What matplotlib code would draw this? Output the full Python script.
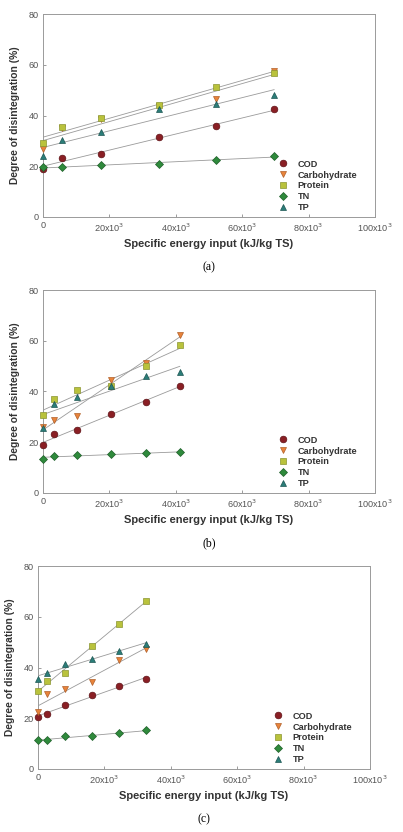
import numpy as np
import matplotlib
matplotlib.use('Agg')
import matplotlib.pyplot as plt
from matplotlib.ticker import FuncFormatter

# degree of disintegration (%) vs specific energy input (kJ/kg TS)
series = ['COD', 'Carbohydrate', 'Protein', 'TN', 'TP']

x_a = [0, 5800, 17400, 34800, 52200, 69600]
cod_a = [19.1, 23.3, 25.0, 31.4, 35.9, 42.4]
carb_a = [26.7, 35.0, 38.5, 43.8, 46.4, 57.6]
prot_a = [29.2, 35.3, 38.9, 44.2, 51.3, 56.8]
tn_a = [19.7, 19.7, 20.4, 20.7, 22.4, 24.1]
tp_a = [24.1, 30.5, 33.6, 42.4, 44.7, 48.0]

x_b = [0, 3440, 10300, 20600, 30900, 41200]
cod_b = [19.0, 23.2, 24.9, 31.3, 35.9, 42.2]
carb_b = [26.2, 28.9, 30.4, 44.6, 51.4, 62.3]
prot_b = [30.8, 37.1, 40.4, 42.0, 50.1, 58.4]
tn_b = [13.5, 14.4, 15.1, 15.3, 15.7, 16.0]
tp_b = [25.8, 35.1, 38.0, 42.0, 46.0, 47.7]

x_c = [0, 2700, 8100, 16200, 24300, 32400]
cod_c = [20.6, 21.6, 25.4, 29.1, 32.7, 35.3]
carb_c = [22.3, 29.4, 31.7, 34.4, 43.1, 47.2]
prot_c = [30.7, 34.6, 38.0, 48.4, 57.0, 66.1]
tn_c = [11.3, 11.4, 12.9, 13.0, 14.0, 15.2]
tp_c = [35.5, 37.9, 41.4, 43.3, 46.6, 49.2]

colors = ['#8a1f24', '#e8833a', '#b9c23c', '#2f8a3c', '#2b7d78']
edges = ['#5e1216', '#b0602a', '#8a9430', '#1f5f29', '#1d5653']
markers = ['o', 'v', 's', 'D', '^']
msizes = [4.8, 5.0, 4.6, 4.2, 5.0]

plt.rcParams['font.family'] = ['Liberation Sans', 'DejaVu Sans']

fig = plt.figure(figsize=(4.03, 8.32), dpi=100)

panels = [
    (x_a, [cod_a, carb_a, prot_a, tn_a, tp_a], [43, 14], '(a)'),
    (x_b, [cod_b, carb_b, prot_b, tn_b, tp_b], [43, 290], '(b)'),
    (x_c, [cod_c, carb_c, prot_c, tn_c, tp_c], [38, 566], '(c)'),
]

def kfmt(v, pos):
    if v == 0:
        return '0'
    return '%dx10$^{3}$' % int(round(v / 1000))

W, H = 403.0, 832.0
for xs, ys, (left_px, top_px), cap in panels:
    ax = fig.add_axes([left_px / W, 1 - (top_px + 203) / H, 332 / W, 203 / H])
    handles = []
    for i, y in enumerate(ys):
        # linear trend line
        k, b = np.polyfit(xs, y, 1)
        xx = np.array([xs[0], xs[-1]])
        ax.plot(xx, k * xx + b, color='#9a9a9a', lw=0.6, zorder=2)
        h, = ax.plot(xs, y, ls='none', marker=markers[i], ms=msizes[i],
                     mfc=colors[i], mec=edges[i], mew=0.5, zorder=3,
                     label=series[i], clip_on=False)
        handles.append(h)
    ax.set_xlim(0, 100000)
    ax.set_ylim(0, 80)
    ax.set_xticks([0, 20000, 40000, 60000, 80000, 100000])
    ax.set_yticks([0, 20, 40, 60, 80])
    ax.xaxis.set_major_formatter(FuncFormatter(kfmt))
    ax.tick_params(direction='in', length=2.5, width=0.6, colors='#8c8c8c',
                   labelcolor='#555555', labelsize=6.6, pad=3)
    for s in ax.spines.values():
        s.set_color('#9a9a9a')
        s.set_linewidth(0.7)
    ax.set_xlabel('Specific energy input (kJ/kg TS)', fontsize=8,
                  fontweight='bold', color='#333333', labelpad=4)
    ax.set_ylabel('Degree of disintegration (%)', fontsize=7.4,
                  fontweight='bold', color='#333333', labelpad=6)
    ax.legend(handles=handles, loc='upper left', bbox_to_anchor=(0.695, 0.305),
              frameon=False, prop={'weight': 'bold', 'size': 6.6},
              handlelength=1.0, handletextpad=1.1, labelspacing=0.2,
              borderpad=0, labelcolor='#333333')
    fig.text((left_px + 166) / W, 1 - (top_px + 253) / H, cap,
             fontsize=8.5, family='Liberation Serif', ha='center', va='center')

fig.savefig('out.png', dpi=100)
